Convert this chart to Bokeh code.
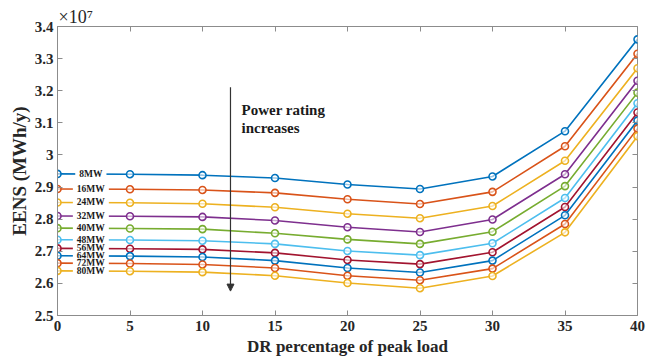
from bokeh.plotting import figure
from bokeh.models import (LinearAxis, FixedTicker, CustomJSTickFormatter, Range1d,
                          Arrow, NormalHead, Label)
from bokeh.embed import file_html
from bokeh.resources import INLINE

dr = [0, 5, 10, 15, 20, 25, 30, 35, 40]
names = ["8MW", "16MW", "24MW", "32MW", "40MW", "48MW", "56MW", "64MW", "72MW", "80MW"]
eens = {
    "8MW":  [2.941, 2.940, 2.937, 2.928, 2.908, 2.894, 2.933, 3.074, 3.360],
    "16MW": [2.894, 2.893, 2.891, 2.882, 2.862, 2.847, 2.885, 3.027, 3.315],
    "24MW": [2.852, 2.851, 2.848, 2.837, 2.817, 2.803, 2.841, 2.982, 3.270],
    "32MW": [2.810, 2.809, 2.807, 2.796, 2.775, 2.760, 2.799, 2.940, 3.231],
    "40MW": [2.772, 2.771, 2.769, 2.756, 2.737, 2.723, 2.761, 2.903, 3.194],
    "48MW": [2.736, 2.735, 2.733, 2.723, 2.701, 2.688, 2.725, 2.866, 3.161],
    "56MW": [2.709, 2.708, 2.706, 2.695, 2.673, 2.660, 2.697, 2.838, 3.132],
    "64MW": [2.686, 2.685, 2.682, 2.671, 2.648, 2.634, 2.671, 2.812, 3.107],
    "72MW": [2.663, 2.662, 2.659, 2.648, 2.624, 2.610, 2.646, 2.785, 3.082],
    "80MW": [2.639, 2.638, 2.635, 2.624, 2.601, 2.585, 2.623, 2.759, 3.058],
}
colors = ["#0072BD", "#D95319", "#EDB120", "#7E2F8E", "#77AC30",
          "#4DBEEE", "#A2142F", "#0072BD", "#D95319", "#EDB120"]
x_ticks = [0, 5, 10, 15, 20, 25, 30, 35, 40]
y_ticks = [2.5, 2.6, 2.7, 2.8, 2.9, 3.0, 3.1, 3.2, 3.3, 3.4]

FONT = "Liberation Serif"
TXT = "#262626"
AX = "#8c8c8c"

p = figure(width=655, height=358, output_backend="svg", toolbar_location=None,
           x_range=Range1d(0, 40), y_range=Range1d(2.5, 3.4),
           min_border_left=57, min_border_right=18, min_border_top=26, min_border_bottom=43)
p.grid.visible = False
p.outline_line_color = AX
p.outline_line_width = 1
p.background_fill_color = "white"
p.border_fill_color = "white"

p.title.text = "\u00d710\u2077"
p.title.text_font = FONT
p.title.text_font_style = "normal"
p.title.text_font_size = "18px"
p.title.text_color = TXT
p.title.align = "left"
p.title.offset = 1
p.title.standoff = 0

fmt = CustomJSTickFormatter(code="return Number(tick.toFixed(1)).toString();")
blank = CustomJSTickFormatter(code="return '';")

for ax in p.xaxis:
    ax.ticker = FixedTicker(ticks=x_ticks)
    ax.axis_label = "DR percentage of peak load"
    ax.axis_label_text_font_size = "17px"
    ax.major_label_standoff = 5
    ax.axis_label_standoff = 3
for ax in p.yaxis:
    ax.ticker = FixedTicker(ticks=y_ticks)
    ax.formatter = fmt
    ax.axis_label = "EENS (MWh/y)"
    ax.axis_label_text_font_size = "19px"
    ax.major_label_standoff = 4
    ax.axis_label_standoff = 2

for ax in p.xaxis + p.yaxis:
    ax.axis_line_color = AX
    ax.major_tick_line_color = AX
    ax.major_tick_in = 5
    ax.major_tick_out = 0
    ax.minor_tick_line_color = None
    ax.major_label_text_font = FONT
    ax.major_label_text_font_style = "bold"
    ax.major_label_text_font_size = "15px"
    ax.major_label_text_color = TXT
    ax.axis_label_text_font = FONT
    ax.axis_label_text_font_style = "bold"
    ax.axis_label_text_color = TXT

top = LinearAxis(ticker=FixedTicker(ticks=x_ticks), formatter=blank,
                 major_label_standoff=0, axis_line_color=None, major_tick_line_color=AX,
                 major_tick_in=5, major_tick_out=0, minor_tick_line_color=None)
right = LinearAxis(ticker=FixedTicker(ticks=y_ticks), formatter=blank,
                   major_label_standoff=0, axis_line_color=None, major_tick_line_color=AX,
                   major_tick_in=5, major_tick_out=0, minor_tick_line_color=None)
p.add_layout(top, "above")
p.add_layout(right, "right")

for name, c in zip(names, colors):
    ys = eens[name]
    p.line(dr, ys, line_color=c, line_width=1.6)
    p.scatter(dr, ys, marker="circle", size=7, line_color=c, line_width=1.6,
              fill_color="white", fill_alpha=0.6)

for name in names:
    p.add_layout(Label(x=2.3, y=eens[name][0], text=name, text_font=FONT,
                       text_font_style="bold", text_font_size="9.5px", text_color="#1a1a1a",
                       text_align="center", text_baseline="middle", text_line_height=0.75,
                       background_fill_color="white", padding=(4, 0)))

p.add_layout(Arrow(end=NormalHead(size=7, fill_color="#333333", line_color="#333333"),
                   x_start=11.93, y_start=3.211, x_end=11.93, y_end=2.576,
                   line_color="#333333", line_width=1.2))
p.add_layout(Label(x=12.69, y=3.141, text="Power rating", text_font=FONT,
                   text_font_style="bold", text_font_size="15px", text_color="#1a1a1a",
                   text_baseline="alphabetic"))
p.add_layout(Label(x=12.69, y=3.085, text="increases", text_font=FONT,
                   text_font_style="bold", text_font_size="15px", text_color="#1a1a1a",
                   text_baseline="alphabetic"))

open("out.html", "w").write(file_html(p, INLINE))
